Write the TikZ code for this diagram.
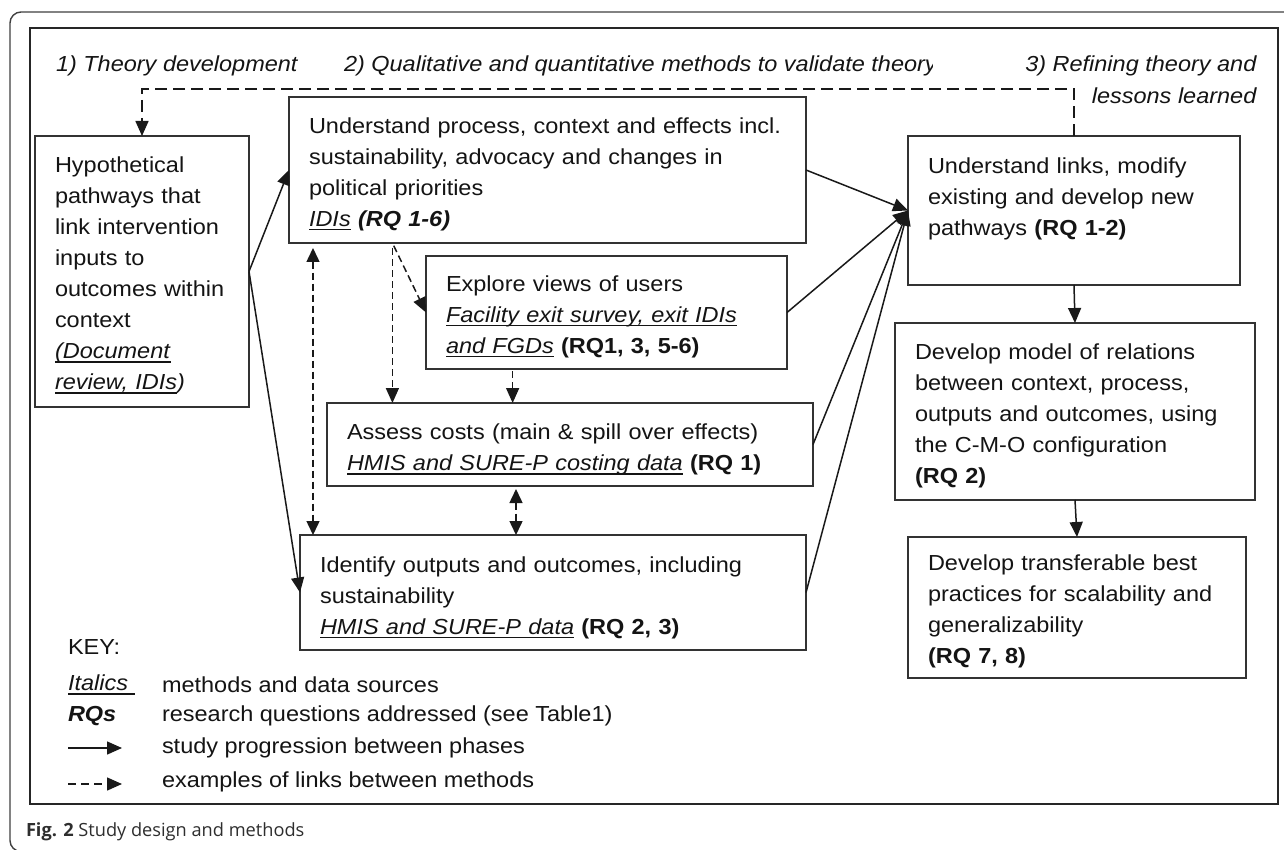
\documentclass[tikz,border=0pt]{standalone}
\usepackage{fontspec}
\setmainfont{Liberation Sans}[FakeStretch=1.08]
\newfontfamily\capfont{Open Sans}
\usetikzlibrary{arrows.meta,calc}
\newcommand\mainsz{\fontsize{21.75pt}{31pt}\selectfont}
\newsavebox\ulbx
\newcommand\ulin[1]{\sbox\ulbx{#1}\leavevmode\rlap{\rule[-3.8pt]{\wd\ulbx}{1.5pt}}\usebox\ulbx}
\newcommand\topst{\rule{0pt}{24pt}}
\begin{document}
\begin{tikzpicture}[x=1pt,y=-1pt,
  every node/.style={font=\mainsz, text=black!92, outer sep=0pt},
  box/.style={draw=black!80, line width=1.6pt, inner xsep=20pt, inner ysep=0pt, anchor=north west, align=left},
  lbl/.style={anchor=west, inner sep=0pt},
  arr/.style={-{Triangle[length=15pt,width=13pt]}, line width=1.5pt, draw=black!90},
  darr/.style={arr, dash pattern=on 7pt off 4pt},
  ddarr/.style={{Triangle[length=14pt,width=13pt]}-{Triangle[length=14pt,width=13pt]}, line width=1.5pt, draw=black!90, dash pattern=on 7pt off 4pt},
  fbarr/.style={arr, dash pattern=on 12pt off 6pt}
]
\useasboundingbox (0,0) rectangle (1284,850);
\clip (0,0) rectangle (1284,850);
\fill[white] (0,0) rectangle (1284,850);
% outer frame and inner frame
\draw[black!75, line width=1.4pt, rounded corners=11pt] (1300,12) -- (10,12) -- (10,851.5) -- (1300,851.5);
\draw[black!85, line width=2pt] (30,28) rectangle (1278,804);

% phase titles
\node[lbl] (title1) at (56,66) {\textit{1) Theory development}};
\begin{scope}
\clip (300,40) rectangle (932,95);
\node[lbl] (title2) at (344,66) {\textit{2) Qualitative and quantitative methods to validate theory}};
\end{scope}
\node[anchor=east, inner sep=0pt] (title3a) at (1257,66) {\textit{3) Refining theory and}};
\node[anchor=east, inner sep=0pt] (title3b) at (1257,96) {\textit{lessons learned}};

% boxes
\node[box, minimum width=214pt, minimum height=271pt, text width=174pt] (hyp) at (35,136)
 {\topst Hypothetical\\pathways that\\link intervention\\inputs to\\outcomes within\\context\\\ulin{\textit{(Document}}\\\ulin{\textit{review, IDIs}}\textit{)}};
\node[box, minimum width=517pt, minimum height=146pt, text width=477pt] (idi) at (289,97)
 {\topst Understand process, context and effects incl.\\sustainability, advocacy and changes in\\political priorities\\\ulin{\textit{IDIs}} \textbf{\textit{(RQ 1-6)}}};
\node[box, minimum width=361pt, minimum height=113pt, text width=321pt] (explore) at (426,256)
 {\topst Explore views of users\\\ulin{\textit{Facility exit survey, exit IDIs}}\\\ulin{\textit{and FGDs}} \textbf{(RQ1, 3, 5-6)}};
\node[box, minimum width=486pt, minimum height=83pt, text width=446pt] (assess) at (327,403)
 {\rule{0pt}{26pt}Assess costs (main \& spill over effects)\\\ulin{\textit{HMIS and SURE-P costing data}} \textbf{(RQ 1)}};
\node[box, minimum width=506pt, minimum height=115pt, text width=466pt] (identify) at (300,535)
 {\rule{0pt}{26pt}Identify outputs and outcomes, including\\sustainability\\\ulin{\textit{HMIS and SURE-P data}} \textbf{(RQ 2, 3)}};
\node[box, minimum width=332pt, minimum height=149pt, text width=292pt] (right) at (908,136)
 {\rule{0pt}{19pt}Understand links, modify\\existing and develop new\\pathways \textbf{(RQ 1-2)}\\\mbox{}};
\node[box, minimum width=360pt, minimum height=177pt, text width=320pt] (develop) at (895,323)
 {\topst Develop model of relations\\between context, process,\\outputs and outcomes, using\\the C-M-O configuration\\\textbf{(RQ 2)}};
\node[box, minimum width=338pt, minimum height=141pt, text width=298pt] (trans) at (908,537)
 {\topst Develop transferable best\\practices for scalability and\\generalizability\\\textbf{(RQ 7, 8)}};

% feedback dashed line
\coordinate (fbtop) at (0,89);
\draw[fbarr] (right.north) -- (right.north |- fbtop) -| (hyp.north);

% solid progression arrows
\draw[arr] (hyp.east) -- (idi.west);
\draw[arr] (hyp.east) -- (identify.west);
\draw[arr] (idi.east) -- (right.west);
\draw[arr] (explore.east) -- (right.west);
\draw[arr] (assess.east) -- (right.west);
\draw[arr] (identify.east) -- (right.west);
\draw[arr] (right.south) -- (develop.north);
\draw[arr] (develop.south) -- (trans.north);

% dashed links between methods
\coordinate (idiA) at ($(idi.south west)!0.2!(idi.south east)$);
\coordinate (idiB) at ([xshift=24pt]idi.south west);
\coordinate (expA) at ($(explore.south west)!0.24!(explore.south east)$);
\coordinate (asA) at ([xshift=189pt]assess.south west);
\draw[darr, shorten <=5pt] (idiA) -- (idiA |- assess.north);
\draw[darr, shorten <=3pt] (idiA) -- (explore.west);
\draw[darr, shorten <=2pt] (expA) -- (expA |- assess.north);
\draw[ddarr, shorten <=5pt] (idiB) -- (idiB |- identify.north);
\draw[ddarr, shorten <=3pt] (asA) -- (asA |- identify.north);

% key
\node[lbl] (key) at (68,647) {KEY:};
\node[lbl] (k1a) at (68,685) {\ulin{\textit{Italics}\ }};
\node[lbl] (k1b) at (162,685) {methods and data sources};
\node[lbl] (k2a) at (68,716) {\textbf{\textit{RQs}}};
\node[lbl] (k2b) at (162,716) {research questions addressed (see Table1)};
\coordinate (ls1) at (68,748);
\coordinate (ls2) at (122,748);
\draw[arr] (ls1) -- (ls2);
\node[lbl] (k3b) at (162,748) {study progression between phases};
\coordinate (ld1) at (68,784);
\coordinate (ld2) at (122,784);
\draw[arr, dash pattern=on 8pt off 5pt] (ld1) -- (ld2);
\node[lbl] (k4b) at (162,782) {examples of links between methods};

% caption
\node[lbl, font=\capfont\fontsize{18.2pt}{22pt}\selectfont, text=black!82] (cap) at (26,832) {\textbf{Fig. 2} Study design and methods};
\end{tikzpicture}
\end{document}
